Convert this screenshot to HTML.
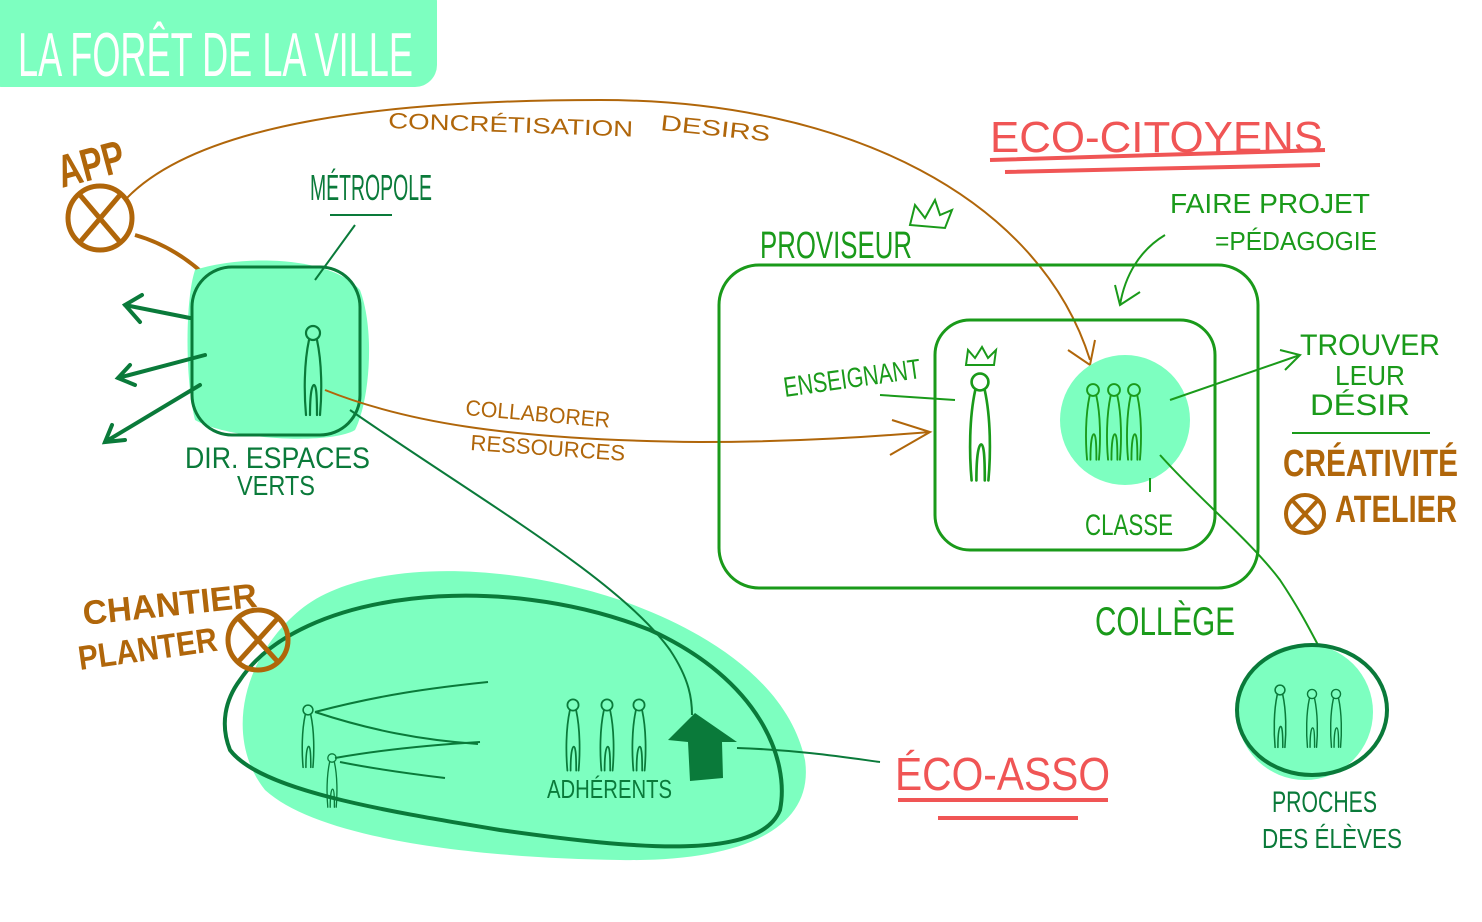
<!DOCTYPE html>
<html><head><meta charset="utf-8"><style>
html,body{margin:0;padding:0;background:#fff;}
svg{display:block}
text{font-family:"Liberation Sans Narrow","Liberation Sans",sans-serif;}
</style></head><body>
<svg width="1482" height="922" viewBox="0 0 1482 922" xmlns="http://www.w3.org/2000/svg">
<defs>
<g id="p" fill="none" stroke-width="2.2" stroke-linecap="round" stroke-linejoin="round">
<circle cx="0" cy="0" r="7"/>
<path d="M-4 7 C-9 30 -9 60 -7 82 M4 7 C9 30 9 60 7 82 M-3 82 C-3 60 -1 52 1 52 C3 52 4 60 4 82"/>
</g>
</defs>
<rect width="1482" height="922" fill="#fff"/>
<!-- title -->
<rect x="-20" y="-20" width="457" height="107" rx="22" fill="#7dffc0"/>
<text x="18" y="76" fill="#fff" font-size="62" textLength="395" lengthAdjust="spacingAndGlyphs">LA FORÊT DE LA VILLE</text>

<!-- orange arc -->
<path d="M125 200 C200 120 400 100 600 100 C850 100 1040 200 1090 360" fill="none" stroke="#b0660a" stroke-width="2"/>
<path d="M1068 350 L1090 365 L1095 340" fill="none" stroke="#b0660a" stroke-width="2"/>
<text x="388" y="128" fill="#b0660a" font-size="22" transform="rotate(2 388 128)" textLength="245" lengthAdjust="spacingAndGlyphs">CONCRÉTISATION</text>
<text x="660" y="130" fill="#b0660a" font-size="22" transform="rotate(6 660 130)" textLength="110" lengthAdjust="spacingAndGlyphs">DESIRS</text>
<text x="62" y="188" fill="#b0660a" font-size="46" font-weight="bold" transform="rotate(-15 62 188)" textLength="68" lengthAdjust="spacingAndGlyphs">APP</text>
<circle cx="100" cy="218" r="32" fill="none" stroke="#b0660a" stroke-width="5"/>
<path d="M80 195 L120 242 M120 195 L80 242" stroke="#b0660a" stroke-width="5"/>
<path d="M135 235 C170 245 195 265 210 280" fill="none" stroke="#b0660a" stroke-width="4"/>

<!-- dir espaces verts -->
<path d="M195 270 C240 255 330 255 360 290 C375 330 370 400 355 430 C330 445 230 440 195 420 C185 380 185 300 195 270Z" fill="#7dffc0"/>
<rect x="192" y="267" width="168" height="168" rx="40" fill="none" stroke="#0a7a3a" stroke-width="3"/>
<g stroke="#0a7a3a" stroke-width="4" fill="none" stroke-linecap="round">
<path d="M190 318 L125 305 M142 295 L125 305 L140 322"/>
<path d="M205 355 L118 378 M130 365 L118 378 L135 385"/>
<path d="M200 385 L105 442 M112 425 L105 442 L125 440"/>
</g>
<use href="#p" x="313" y="333" stroke="#0a7a3a"/>
<text x="310" y="200" fill="#0a7a3a" font-size="36" textLength="122" lengthAdjust="spacingAndGlyphs">MÉTROPOLE</text>
<path d="M330 215 L392 215 M355 225 L315 280" stroke="#0a7a3a" stroke-width="2"/>
<text x="185" y="468" fill="#0a7a3a" font-size="30" textLength="185" lengthAdjust="spacingAndGlyphs">DIR. ESPACES</text>
<text x="237" y="495" fill="#0a7a3a" font-size="28" textLength="78" lengthAdjust="spacingAndGlyphs">VERTS</text>

<!-- collaborer -->
<path d="M325 390 C400 420 500 440 700 442 C800 442 880 436 930 432" fill="none" stroke="#b0660a" stroke-width="2"/>
<path d="M892 420 L930 432 L890 455" fill="none" stroke="#b0660a" stroke-width="2"/>
<text x="465" y="415" fill="#b0660a" font-size="22" transform="rotate(5 465 415)" textLength="145" lengthAdjust="spacingAndGlyphs">COLLABORER</text>
<text x="470" y="450" fill="#b0660a" font-size="22" transform="rotate(4 470 450)" textLength="155" lengthAdjust="spacingAndGlyphs">RESSOURCES</text>

<!-- big blob -->
<path d="M300 610 C360 560 500 560 620 600 C720 635 790 690 805 760 C815 830 740 862 620 860 C480 858 320 840 265 790 C225 740 240 660 300 610Z" fill="#7dffc0"/>
<path d="M240 680 C300 590 500 570 650 630 C760 680 790 760 780 810 C760 860 640 850 500 830 C380 810 260 790 230 750 C220 725 225 700 240 680Z" fill="none" stroke="#0a7a3a" stroke-width="4"/>
<path d="M350 410 C480 500 620 580 670 650 C690 680 692 700 692 715" fill="none" stroke="#0a7a3a" stroke-width="2"/>
<g stroke="#0a7a3a" stroke-width="2" fill="none">
<path d="M315 712 C380 695 430 688 488 682 M315 712 C370 730 420 740 478 744 M335 758 C380 750 430 745 480 742 M340 762 C380 770 420 775 445 778"/>
</g>
<g transform="translate(308 710) scale(0.7)"><use href="#p" stroke="#0a7a3a"/></g>
<g transform="translate(332 758) scale(0.6)"><use href="#p" stroke="#0a7a3a"/></g>
<g transform="translate(573 705) scale(0.8)"><use href="#p" stroke="#0a7a3a"/></g>
<g transform="translate(607 705) scale(0.8)"><use href="#p" stroke="#0a7a3a"/></g>
<g transform="translate(639 705) scale(0.8)"><use href="#p" stroke="#0a7a3a"/></g>
<text x="547" y="798" fill="#0a7a3a" font-size="26" textLength="125" lengthAdjust="spacingAndGlyphs">ADHÉRENTS</text>
<path d="M668 740 L695 713 L737 742 L722 742 L723 778 L690 781 L688 742 Z" fill="#0a7a3a"/>
<path d="M737 748 C800 750 850 758 880 762" stroke="#0a7a3a" stroke-width="2" fill="none"/>
<text x="895" y="790" fill="#f05555" font-size="46" textLength="215" lengthAdjust="spacingAndGlyphs">ÉCO-ASSO</text>
<path d="M898 800 L1108 800 M938 818 L1078 818" stroke="#f05555" stroke-width="4"/>
<text x="84" y="625" fill="#b0660a" font-size="34" font-weight="bold" transform="rotate(-6 84 625)" textLength="175" lengthAdjust="spacingAndGlyphs">CHANTIER</text>
<text x="80" y="670" fill="#b0660a" font-size="34" font-weight="bold" transform="rotate(-8 80 670)" textLength="140" lengthAdjust="spacingAndGlyphs">PLANTER</text>
<circle cx="258" cy="640" r="30" fill="none" stroke="#b0660a" stroke-width="5"/>
<path d="M238 618 L278 662 M278 618 L238 662" stroke="#b0660a" stroke-width="5"/>

<!-- college -->
<rect x="719" y="265" width="539" height="323" rx="40" fill="none" stroke="#1a9a1a" stroke-width="3"/>
<rect x="935" y="320" width="280" height="230" rx="35" fill="none" stroke="#1a9a1a" stroke-width="3"/>
<text x="760" y="258" fill="#1a9a1a" font-size="38" textLength="152" lengthAdjust="spacingAndGlyphs">PROVISEUR</text>
<path d="M910 225 L915 205 L925 218 L935 200 L940 215 L952 210 L945 228 Z" fill="none" stroke="#1a9a1a" stroke-width="2"/>
<text x="990" y="152" fill="#f05555" font-size="44" textLength="333" lengthAdjust="spacingAndGlyphs">ECO-CITOYENS</text>
<path d="M990 160 L1325 150 M1005 172 L1320 165" stroke="#f05555" stroke-width="4"/>
<text x="1170" y="213" fill="#1a9a1a" font-size="28" textLength="200" lengthAdjust="spacingAndGlyphs">FAIRE PROJET</text>
<text x="1215" y="250" fill="#1a9a1a" font-size="26" textLength="162" lengthAdjust="spacingAndGlyphs">=PÉDAGOGIE</text>
<path d="M1165 235 C1140 250 1125 275 1120 305 M1115 285 L1120 305 L1140 292" fill="none" stroke="#1a9a1a" stroke-width="2"/>
<text x="785" y="397" fill="#1a9a1a" font-size="28" transform="rotate(-8 785 397)" textLength="138" lengthAdjust="spacingAndGlyphs">ENSEIGNANT</text>
<path d="M880 395 L955 400" stroke="#1a9a1a" stroke-width="2"/>
<path d="M966 365 L968 350 L975 358 L982 347 L988 358 L996 350 L994 365 Z" fill="none" stroke="#1a9a1a" stroke-width="2"/>
<g transform="translate(980 382) scale(1.2)"><use href="#p" stroke="#1a9a1a"/></g>
<circle cx="1125" cy="420" r="65" fill="#7dffc0"/>
<g transform="translate(1093 390) scale(0.85)"><use href="#p" stroke="#1a9a1a"/></g>
<g transform="translate(1114 390) scale(0.85)"><use href="#p" stroke="#1a9a1a"/></g>
<g transform="translate(1134 390) scale(0.85)"><use href="#p" stroke="#1a9a1a"/></g>
<path d="M1150 478 L1150 492" stroke="#1a9a1a" stroke-width="2"/>
<text x="1085" y="535" fill="#1a9a1a" font-size="30" textLength="88" lengthAdjust="spacingAndGlyphs">CLASSE</text>
<path d="M1170 400 L1300 355 M1280 350 L1300 355 L1285 370" fill="none" stroke="#1a9a1a" stroke-width="2"/>
<text x="1300" y="355" fill="#1a9a1a" font-size="30" textLength="140" lengthAdjust="spacingAndGlyphs">TROUVER</text>
<text x="1335" y="385" fill="#1a9a1a" font-size="28" textLength="70" lengthAdjust="spacingAndGlyphs">LEUR</text>
<text x="1310" y="415" fill="#1a9a1a" font-size="30" textLength="100" lengthAdjust="spacingAndGlyphs">DÉSIR</text>
<path d="M1292 433 L1430 433" stroke="#1a9a1a" stroke-width="2"/>
<text x="1283" y="476" fill="#b0660a" font-size="38" font-weight="bold" textLength="175" lengthAdjust="spacingAndGlyphs">CRÉATIVITÉ</text>
<circle cx="1305" cy="514" r="19" fill="none" stroke="#b0660a" stroke-width="4"/>
<path d="M1292 500 L1318 528 M1318 500 L1292 528" stroke="#b0660a" stroke-width="4"/>
<text x="1335" y="522" fill="#b0660a" font-size="38" font-weight="bold" textLength="122" lengthAdjust="spacingAndGlyphs">ATELIER</text>
<text x="1095" y="635" fill="#1a9a1a" font-size="40" textLength="140" lengthAdjust="spacingAndGlyphs">COLLÈGE</text>

<!-- proches -->
<path d="M1160 455 C1200 500 1250 540 1280 580 C1300 610 1310 630 1318 645" fill="none" stroke="#1a9a1a" stroke-width="2"/>
<circle cx="1305" cy="712" r="68" fill="#7dffc0"/>
<ellipse cx="1312" cy="710" rx="75" ry="65" fill="none" stroke="#0a7a3a" stroke-width="4"/>
<g transform="translate(1280 690) scale(0.7)"><use href="#p" stroke="#0a7a3a"/></g>
<g transform="translate(1312 694) scale(0.65)"><use href="#p" stroke="#0a7a3a"/></g>
<g transform="translate(1336 694) scale(0.65)"><use href="#p" stroke="#0a7a3a"/></g>
<text x="1272" y="812" fill="#0a7a3a" font-size="30" textLength="105" lengthAdjust="spacingAndGlyphs">PROCHES</text>
<text x="1262" y="848" fill="#0a7a3a" font-size="28" textLength="140" lengthAdjust="spacingAndGlyphs">DES ÉLÈVES</text>
</svg>
</body></html>
